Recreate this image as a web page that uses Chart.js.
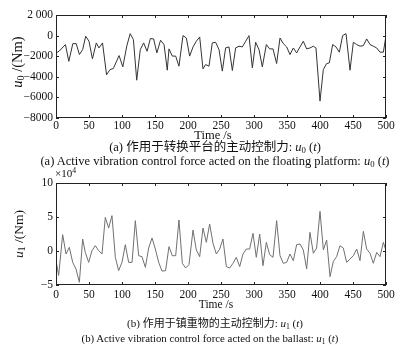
<!DOCTYPE html>
<html>
<head>
<meta charset="utf-8">
<script src="https://cdn.jsdelivr.net/npm/chart.js@4"></script>
<style>
  body { margin: 0; background: #fff; }
  #wrap { position: relative; width: 401px; height: 352px; overflow: hidden; font-family: "Liberation Serif", serif; color: #111; }
  .c { position: absolute; left: 0; }
  .t { position: absolute; white-space: nowrap; transform: translate(-50%, -50%); font-size: 11px; line-height: 1; }
  .zh { font-family: "Liberation Serif", "Noto Sans CJK SC", serif; }
  .yl { position: absolute; white-space: nowrap; transform: translate(-50%, -50%) rotate(-90deg); font-size: 14px; line-height: 1; }
  sub { font-size: 70%; vertical-align: -2px; line-height: 0; }
  sup { font-size: 70%; vertical-align: 4px; line-height: 0; }
</style>
</head>
<body>
<div id="wrap">
  <div class="c" style="top:0;width:401px;height:140px"><canvas id="top"></canvas></div>
  <div class="c" style="top:170px;width:401px;height:140px"><canvas id="bottom"></canvas></div>

  <div class="yl" style="left:17px;top:62px;font-size:14.5px"><i>u</i><sub>0</sub> /(Nm)</div>
  <div class="t" style="left:213px;top:135px;font-size:12.5px">Time /s</div>
  <div class="t zh" style="left:215px;top:147px;font-size:12.5px">(a) 作用于转换平台的主动控制力: <i>u</i><sub>0</sub> (<i>t</i>)</div>
  <div class="t" style="left:215px;top:161px;font-size:12.5px">(a) Active vibration control force acted on the floating platform: <i>u</i><sub>0</sub> (<i>t</i>)</div>

  <div class="t" style="left:55px;top:173px;transform:translate(0,-50%)">×10<sup>4</sup></div>
  <div class="yl" style="left:19px;top:234px;font-size:13.5px"><i>u</i><sub>1</sub> /(Nm)</div>
  <div class="t" style="left:216px;top:305px;font-size:11.5px">Time /s</div>
  <div class="t zh" style="left:215px;top:323px;font-size:11px">(b) 作用于镇重物的主动控制力: <i>u</i><sub>1</sub> (<i>t</i>)</div>
  <div class="t" style="left:210px;top:338px;font-size:10.8px">(b) Active vibration control force acted on the ballast: <i>u</i><sub>1</sub> (<i>t</i>)</div>
</div>

<script>
// u0: control force on the floating platform (Nm)
const u0Time = [0, 4.9, 14.3, 19.4, 25.5, 30.6, 35.5, 40.4, 45, 50, 55.2, 61.1, 65.1, 70.5, 76.6, 81.8, 86.8, 95.6, 101.2, 107.3,
  112.4, 117.3, 122.3, 127.7, 132.8, 138, 143, 147.9, 152.8, 158.4, 163.7, 168.6, 171.2, 176.2, 181.3, 186.3, 192.4, 197.5, 202.5, 207.6,
  212.6, 217.7, 222.7, 226.7, 231.8, 236.8, 241.9, 247, 252, 257, 262.1, 267.2, 272.2, 277.3, 282.3, 287.4, 292.4, 297.5, 302.5, 307.6,
  312.6, 318.7, 323.7, 328.8, 334.3, 339.4, 344.4, 349.5, 354.5, 359.6, 364.6, 369.7, 374.7, 379.8, 384.8, 389.9, 393.9, 400, 405, 410.1,
  414.1, 419.2, 424.2, 429.3, 434.3, 439.4, 445.5, 450.5, 455.6, 460.6, 465.7, 470.7, 475.8, 480.8, 485.9, 490.9, 496, 500];
const u0Values = [-1700, -1500, -870, -2500, -780, -780, -1840, -1360, -60, -550, -2260, -710, -1200, -710, -3800, -3300, -3200, -1940, -3040, -1000,
  190, -390, -4330, -1360, -710, -1520, -290, -320, -1680, -450, -870, -3360, -1290, -1990, -1990, -2970, 0, -230, -1990, -1100,
  -550, -130, -3230, -2810, -2970, -710, -650, -1360, -3450, -1190, -1100, -3390, -1190, -1030, -1100, -550, 0, -3130, -650, -1360,
  -3040, -870, -1290, -1290, -2710, -230, -780, -1100, -1840, -1200, -1680, -1100, -550, -1290, -1200, -1030, -1200, -6360, -3300, -2710,
  -2650, -870, -1100, -1610, 0, 190, -3360, -650, -870, -1030, -970, -320, -870, -1030, -1200, -1610, -1610, 0];

// u1: control force on the ballast (Nm)
const u1Time = [0, 4, 10.1, 15.2, 20.2, 25.3, 30.3, 35.4, 40.4, 44.4, 49.5, 54.5, 59.6, 64.6, 69.7, 74.7, 79.8, 84.8, 89.9, 94.9,
  100, 105, 110.1, 115.2, 120.2, 125.3, 130.3, 135.4, 140.4, 145.5, 150.5, 155.6, 160.6, 166, 171.2, 176.2, 181.3, 186.3, 191.4, 196.4,
  201.5, 207.6, 212.6, 217.7, 222.7, 227.8, 232.8, 237.9, 242.9, 248, 253, 258.1, 263.1, 268.2, 273.2, 278.3, 283.3, 288.4, 293.4, 298.5,
  303.5, 308.6, 313.6, 318.7, 323.7, 328.8, 334.3, 339.4, 344.4, 349.5, 354.5, 359.6, 364.6, 369.7, 374.7, 379.8, 384.8, 389.9, 394.9, 400,
  405.1, 410.1, 415.2, 420.2, 425.2, 430.3, 435.3, 440.4, 445.5, 450.5, 455.6, 460.6, 465.7, 470.7, 475.8, 480.8, 485.9, 490.9, 496, 500];
const u1Values = [-14000, -36000, 24000, -4400, 5400, -16700, -26500, -46000, 17600, -2000, -16700, 500, 7800, 500, -4400, 49500, 33800, 52000, -9300, -28900,
  -16700, 9300, -16700, -16700, 44600, -6900, -8300, -24000, 4400, 19100, 2900, -16700, -29500, -29000, 6400, -6900, -6900, 45600, -18100, -25000,
  -20000, 30900, 1500, -8300, 33800, 12700, 39700, 11300, -4400, 2900, 17600, -23000, -25000, -18100, -9300, -23000, -4400, 2900, 2900, 26000,
  -9300, 25000, -21600, 12700, -5400, -9300, 44600, -6900, -18100, -16700, -4400, -14200, 9300, 10300, 1500, -26500, 27500, -3400, 4400, 58300,
  1500, 16200, -37700, -15200, -8300, 7800, 4400, -16700, -11800, -6900, 2900, -14200, 28900, 2900, -3400, -18100, -2000, -8300, 12700, 500];

const xTickStep = 50;
const u0TickStep = 2000;
const u1TickStep = 50000;

const MINUS = '\u2212';

// box around the plot with MATLAB-style inward ticks on all four sides
const boxTicks = {
  id: 'boxTicks',
  afterDraw(chart) {
    const { ctx, chartArea: a, scales: { x, y } } = chart;
    const len = 3;
    ctx.save();
    ctx.strokeStyle = '#222';
    ctx.lineWidth = 1;
    ctx.strokeRect(Math.round(a.left) + 0.5, Math.round(a.top) + 0.5, Math.round(a.width) - 1, Math.round(a.height) - 1);
    ctx.beginPath();
    x.ticks.forEach(t => {
      const px = Math.round(x.getPixelForValue(t.value)) + 0.5;
      ctx.moveTo(px, a.bottom); ctx.lineTo(px, a.bottom - len);
      ctx.moveTo(px, a.top); ctx.lineTo(px, a.top + len);
    });
    y.ticks.forEach(t => {
      const py = Math.round(y.getPixelForValue(t.value)) + 0.5;
      ctx.moveTo(a.left, py); ctx.lineTo(a.left + len, py);
      ctx.moveTo(a.right, py); ctx.lineTo(a.right - len, py);
    });
    ctx.stroke();
    ctx.restore();
  }
};

function makeChart(id, times, values, color, yMin, yMax, yStep, yLabel, padTop, xHeight, xPad, fontSize) {
  const tickFont = { family: 'Liberation Serif', size: fontSize };
  return new Chart(document.getElementById(id), {
    type: 'line',
    data: {
      datasets: [{
        data: times.map((t, i) => ({ x: t, y: values[i] })),
        borderColor: color,
        borderWidth: 1,
        pointRadius: 0,
        tension: 0
      }]
    },
    options: {
      responsive: true,
      maintainAspectRatio: false,
      animation: false,
      layout: { padding: { top: padTop, right: 15, left: 0, bottom: 0 } },
      plugins: { legend: { display: false }, tooltip: { enabled: false } },
      scales: {
        x: {
          type: 'linear',
          min: 0,
          max: 500,
          grid: { display: false, drawTicks: false },
          border: { display: false },
          ticks: { stepSize: xTickStep, autoSkip: false, maxRotation: 0, color: '#111', font: tickFont, padding: xPad },
          afterFit(s) { s.height = xHeight; }
        },
        y: {
          min: yMin,
          max: yMax,
          grid: { display: false, drawTicks: false },
          border: { display: false },
          ticks: { stepSize: yStep, color: '#111', font: tickFont, padding: 3, callback: yLabel },
          afterFit(s) { s.width = 56; }
        }
      }
    },
    plugins: [boxTicks]
  });
}

makeChart('top', u0Time, u0Values, '#333', -8000, 2000, u0TickStep,
  v => v === 2000 ? '2 000' : (v < 0 ? MINUS + Math.abs(v) : String(v)), 15, 22, 1, 11.5);

makeChart('bottom', u1Time, u1Values, '#707070', -50000, 100000, u1TickStep,
  v => { const n = v / 10000; return n < 0 ? MINUS + Math.abs(n) : String(n); }, 13, 25, 3, 11.5);
</script>
</body>
</html>
